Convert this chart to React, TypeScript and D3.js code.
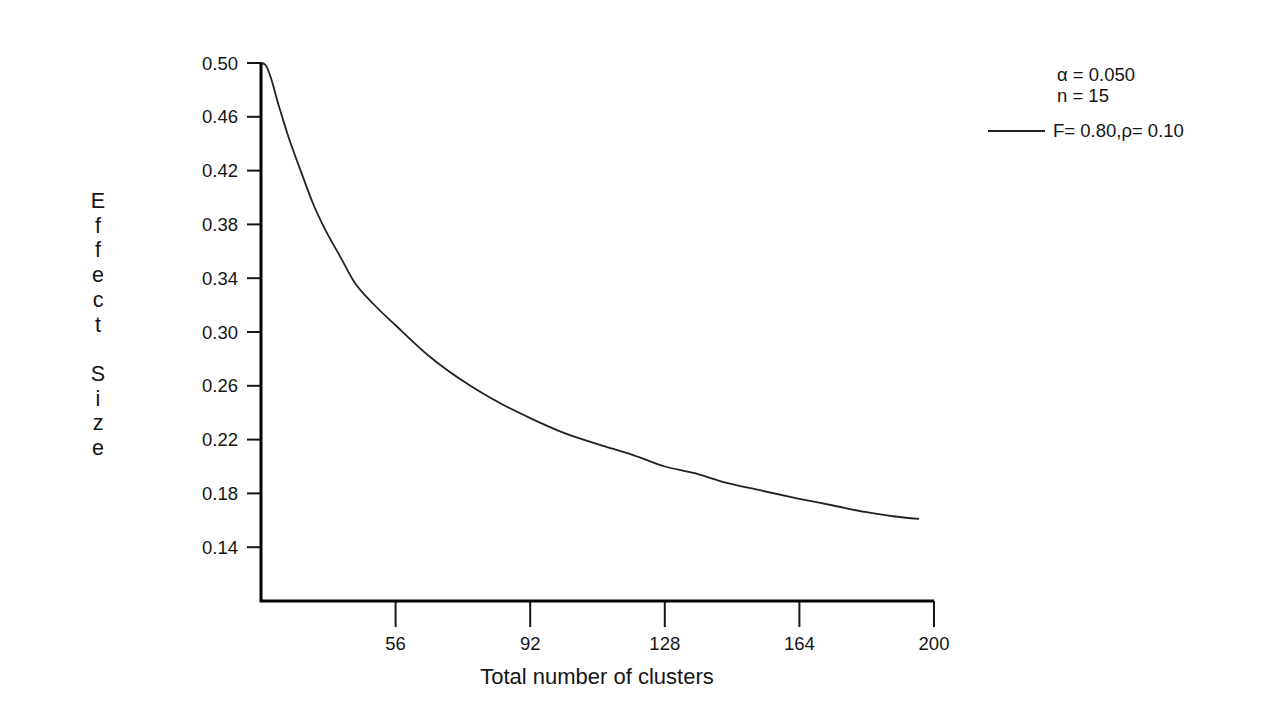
import { useMemo } from "react";
import * as d3 from "d3";

// Values
const clusters = [20, 21, 25, 27, 31, 34, 37, 41, 45, 50, 56, 65, 76, 84, 92, 101, 112, 119, 128, 136, 143, 154, 164, 173, 182, 189, 196];
const effectSize = [0.5, 0.499, 0.466, 0.448, 0.417, 0.395, 0.377, 0.357, 0.337, 0.321, 0.305, 0.282, 0.260, 0.247, 0.236, 0.225, 0.215, 0.209, 0.200, 0.195, 0.189, 0.182, 0.176, 0.171, 0.166, 0.163, 0.161];

const xTicks = [56, 92, 128, 164, 200];
const yTicks = [0.14, 0.18, 0.22, 0.26, 0.3, 0.34, 0.38, 0.42, 0.46, 0.5];

const yTitle = "Effect Size";
const xTitle = "Total number of clusters";
const legendHeader = ["α = 0.050", "n = 15"];
const legendLabel = "F= 0.80,ρ= 0.10";

const FONT = "'Liberation Sans', Arial, Helvetica, sans-serif";
const INK = "#151515";

export default function App() {
  const x = d3.scaleLinear().domain([20, 200]).range([261, 934]);
  const y = d3.scaleLinear().domain([0.1, 0.5]).range([601, 63]);

  const path = useMemo(() => {
    const line = d3
      .line<number>()
      .x((_, i) => x(clusters[i]))
      .y((d) => y(d))
      .curve(d3.curveMonotoneX);
    return line(effectSize) ?? "";
  }, []);

  const letters = yTitle.split("");

  return (
    <svg
      width={1280}
      height={720}
      style={{ position: "fixed", left: 0, top: 0, background: "#fff" }}
      fontFamily={FONT}
    >
      <rect width={1280} height={720} fill="#fff" />

      {/* y ticks */}
      {yTicks.map((t) => (
        <g key={t}>
          <line x1={247} x2={261} y1={y(t)} y2={y(t)} stroke={INK} strokeWidth={2} />
          <text x={238} y={y(t) + 6.5} textAnchor="end" fontSize={18.5} fill={INK}>
            {t.toFixed(2)}
          </text>
        </g>
      ))}

      {/* x ticks */}
      {xTicks.map((t) => (
        <g key={t}>
          <line x1={x(t)} x2={x(t)} y1={601} y2={627} stroke={INK} strokeWidth={2} />
          <text x={x(t)} y={650} textAnchor="middle" fontSize={18.5} fill={INK}>
            {t}
          </text>
        </g>
      ))}

      {/* axes */}
      <path
        d={`M${x(20)},${y(0.5)}V${y(0.1)}H${x(200)}`}
        fill="none"
        stroke="#000"
        strokeWidth={3}
      />

      {/* curve */}
      <path d={path} fill="none" stroke="#222" strokeWidth={1.8} />

      {/* axis titles */}
      <text x={597} y={684} textAnchor="middle" fontSize={22} fill={INK}>
        {xTitle}
      </text>
      {letters.map((c, i) => (
        <text key={i} x={98} y={208 + i * 24.7} textAnchor="middle" fontSize={21.5} fill={INK}>
          {c}
        </text>
      ))}

      {/* legend */}
      {legendHeader.map((s, i) => (
        <text key={s} x={1057} y={81 + i * 21} fontSize={18.5} fill={INK}>
          {s}
        </text>
      ))}
      <line x1={988} x2={1045} y1={131} y2={131} stroke="#222" strokeWidth={1.8} />
      <text x={1053} y={137} fontSize={18.5} fill={INK}>
        {legendLabel}
      </text>
    </svg>
  );
}
